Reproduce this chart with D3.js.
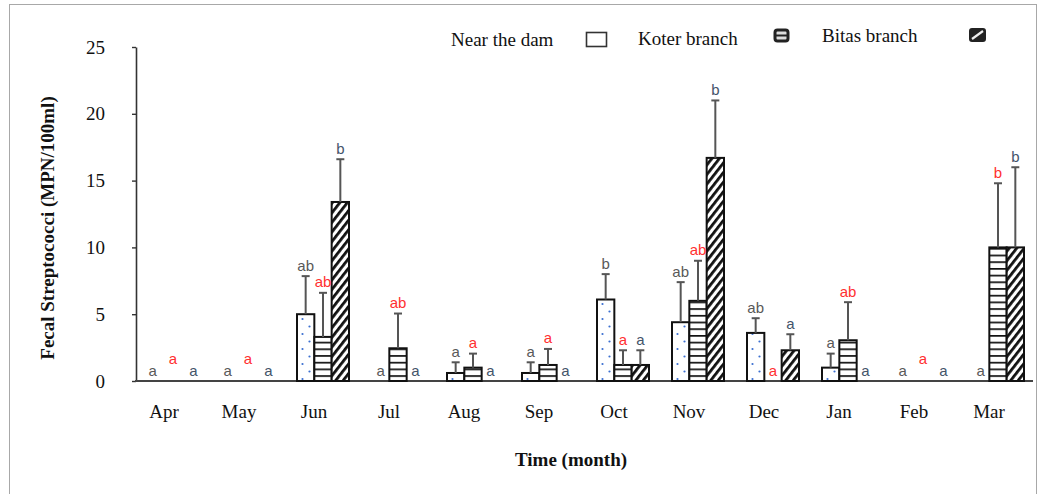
<!DOCTYPE html>
<html>
<head>
<meta charset="utf-8">
<script src="https://cdn.jsdelivr.net/npm/d3@7"></script>
<style>
  html, body { margin: 0; padding: 0; background: #fff; }
  svg { display: block; }
</style>
</head>
<body>
<svg id="chart" width="1041" height="494"></svg>
<script>
// ---- data ----
const months = ["Apr","May","Jun","Jul","Aug","Sep","Oct","Nov","Dec","Jan","Feb","Mar"];
const seriesNames = ["Near the dam","Koter branch","Bitas branch"];
const nearDam    = [0, 0, 5.0, 0,    0.6, 0.6, 6.1, 4.4, 3.6, 1.0, 0, 0];
const nearDamErr = [0, 0, 2.85, 0,   0.8, 0.8, 1.9, 3.0, 1.1, 1.05, 0, 0];
const koter      = [0, 0, 3.3, 2.45, 1.0, 1.2, 1.2, 6.0, 0,   3.05, 0, 10.0];
const koterErr   = [0, 0, 3.3, 2.6,  1.05, 1.2, 1.1, 3.0, 0,  2.85, 0, 4.8];
const bitas      = [0, 0, 13.4, 0,   0,   0,   1.2, 16.7, 2.3, 0,   0, 10.0];
const bitasErr   = [0, 0, 3.2, 0,    0,   0,   1.1, 4.3, 1.2, 0,    0, 6.0];
const nearDamLetters = ["a","a","ab","a","a","a","b","ab","ab","a","a","a"];
const koterLetters   = ["a","a","ab","ab","a","a","a","ab","a","ab","a","b"];
const bitasLetters   = ["a","a","b","a","a","a","a","b","a","a","a","b"];
const yTicks = [0, 5, 10, 15, 20, 25];

const seriesData = [
  {name: seriesNames[0], values: nearDam, errs: nearDamErr, letters: nearDamLetters, pattern: "pDots", letterColor: "#595959"},
  {name: seriesNames[1], values: koter,   errs: koterErr,   letters: koterLetters,   pattern: "pHoriz", letterColor: "#ff3030"},
  {name: seriesNames[2], values: bitas,   errs: bitasErr,   letters: bitasLetters,   pattern: "pDiag", letterColor: "#44546a"}
];

const svg = d3.select("#chart");
const serif = "'Liberation Serif', 'Times New Roman', serif";
const sans = "'Liberation Sans', Arial, sans-serif";

// outer frame
svg.append("rect").attr("x", 9.5).attr("y", 4.5).attr("width", 1027).attr("height", 520)
  .attr("fill", "none").attr("stroke", "#a8a8a8").attr("stroke-width", 1);

// patterns
const defs = svg.append("defs");
const pd = defs.append("pattern").attr("id", "pDots").attr("patternUnits", "userSpaceOnUse")
  .attr("width", 17).attr("height", 15);
pd.append("rect").attr("width", 17).attr("height", 15).attr("fill", "#fff");
pd.append("circle").attr("cx", 5.5).attr("cy", 4).attr("r", 1.1).attr("fill", "#3b6fd0");
pd.append("circle").attr("cx", 12.5).attr("cy", 11.5).attr("r", 1.1).attr("fill", "#3b6fd0");

const ph = defs.append("pattern").attr("id", "pHoriz").attr("patternUnits", "userSpaceOnUse")
  .attr("width", 10).attr("height", 6.7);
ph.append("rect").attr("width", 10).attr("height", 6.7).attr("fill", "#fff");
ph.append("rect").attr("y", 0).attr("width", 10).attr("height", 1.7).attr("fill", "#111");

const pg = defs.append("pattern").attr("id", "pDiag").attr("patternUnits", "userSpaceOnUse")
  .attr("width", 5.9).attr("height", 10).attr("patternTransform", "rotate(38)");
pg.append("rect").attr("width", 5.9).attr("height", 10).attr("fill", "#fff");
pg.append("rect").attr("x", 0).attr("width", 2.8).attr("height", 10).attr("fill", "#111");

// scales
const x = d3.scaleBand().domain(months).range([147, 1024]).paddingInner(23 / 75).paddingOuter(0);
const xs = d3.scaleBand().domain(seriesNames).range([0, x.bandwidth()]);
const y = d3.scaleLinear().domain([0, 25]).range([381, 47]);

// y axis
const yAxis = svg.append("g").attr("transform", "translate(136,0)")
  .call(d3.axisLeft(y).tickValues(yTicks).tickSize(4).tickSizeOuter(0).tickPadding(27));
yAxis.select(".domain").attr("stroke", "#333").attr("stroke-width", 1.6);
yAxis.selectAll(".tick line").attr("stroke", "#333").attr("stroke-width", 1.4);
yAxis.selectAll(".tick text").attr("font-family", serif).attr("font-size", 19).attr("fill", "#111");

// x axis baseline
svg.append("line").attr("x1", 135).attr("x2", 1033).attr("y1", y(0)).attr("y2", y(0))
  .attr("stroke", "#444").attr("stroke-width", 2.2);

// bars
seriesData.forEach((s, si) => {
  months.forEach((m, i) => {
    const v = s.values[i];
    if (v <= 0) return;
    const g = svg.append("g").attr("transform", `translate(${x(m) + xs(s.name)},0)`);
    g.append("rect").attr("x", 0).attr("y", y(v)).attr("width", xs.bandwidth()).attr("height", y(0) - y(v))
      .attr("fill", `url(#${s.pattern})`).attr("stroke", "#111").attr("stroke-width", 2);
  });
});

// error bars
seriesData.forEach(s => {
  months.forEach((m, i) => {
    const v = s.values[i], e = s.errs[i];
    if (v <= 0 || e <= 0) return;
    const cx = x(m) + xs(s.name) + xs.bandwidth() / 2;
    svg.append("line").attr("x1", cx).attr("x2", cx).attr("y1", y(v)).attr("y2", y(v + e))
      .attr("stroke", "#555").attr("stroke-width", 2);
    svg.append("line").attr("x1", cx - 4).attr("x2", cx + 4).attr("y1", y(v + e)).attr("y2", y(v + e))
      .attr("stroke", "#555").attr("stroke-width", 2);
  });
});

// significance letters
seriesData.forEach((s, si) => {
  months.forEach((m, i) => {
    const top = s.values[i] + s.errs[i];
    const allZero = seriesData.every(d => d.values[i] === 0);
    let ly = y(top) - 11;
    if (allZero && si === 1) ly -= 12;
    let lx = x(m) + xs(s.name) + xs.bandwidth() / 2;
    if (allZero) lx += (si - 1) * 3;
    svg.append("text").attr("x", lx).attr("y", ly).attr("text-anchor", "middle")
      .attr("dominant-baseline", "central")
      .attr("font-family", sans).attr("font-size", 15).attr("fill", s.letterColor)
      .text(s.letters[i]);
  });
});

// month labels
svg.append("g").selectAll("text").data(months).join("text")
  .attr("x", m => x(m) + 17).attr("y", 411)
  .attr("text-anchor", "middle").attr("dominant-baseline", "central")
  .attr("font-family", serif).attr("font-size", 19).attr("fill", "#111")
  .text(m => m);

// axis titles
svg.append("text").attr("x", 571).attr("y", 459).attr("text-anchor", "middle")
  .attr("dominant-baseline", "central")
  .attr("font-family", serif).attr("font-weight", "bold").attr("font-size", 19).attr("fill", "#111")
  .text("Time (month)");
svg.append("text").attr("transform", "translate(47,228) rotate(-90)").attr("text-anchor", "middle")
  .attr("dominant-baseline", "central")
  .attr("font-family", serif).attr("font-weight", "bold").attr("font-size", 19).attr("fill", "#111")
  .text("Fecal Streptococci (MPN/100ml)");

// legend (as in the original figure)
const legendTextX = [451, 638, 822];
const legendTextY = [39, 38, 35];
svg.append("g").selectAll("text").data(seriesNames).join("text")
  .attr("x", (d, i) => legendTextX[i]).attr("y", (d, i) => legendTextY[i])
  .attr("dominant-baseline", "central")
  .attr("font-family", serif).attr("font-size", 19).attr("fill", "#111")
  .text(d => d);
// icon 1: empty box
svg.append("rect").attr("x", 586.5).attr("y", 32.5).attr("width", 20).attr("height", 14)
  .attr("fill", "#fff").attr("stroke", "#333").attr("stroke-width", 1.6);
// icon 2: dark box with horizontal line
svg.append("rect").attr("x", 775).attr("y", 30).attr("width", 13).attr("height", 11).attr("rx", 2.5)
  .attr("fill", "#ddd").attr("stroke", "#222").attr("stroke-width", 3);
svg.append("line").attr("x1", 776).attr("x2", 787).attr("y1", 35.5).attr("y2", 35.5)
  .attr("stroke", "#222").attr("stroke-width", 2);
// icon 3: dark box with diagonal
svg.append("rect").attr("x", 970).attr("y", 29).attr("width", 15).attr("height", 12).attr("rx", 2)
  .attr("fill", "#222").attr("stroke", "#222").attr("stroke-width", 2);
svg.append("line").attr("x1", 972).attr("x2", 983).attr("y1", 39).attr("y2", 31)
  .attr("stroke", "#eee").attr("stroke-width", 2.2);
</script>
</body>
</html>
